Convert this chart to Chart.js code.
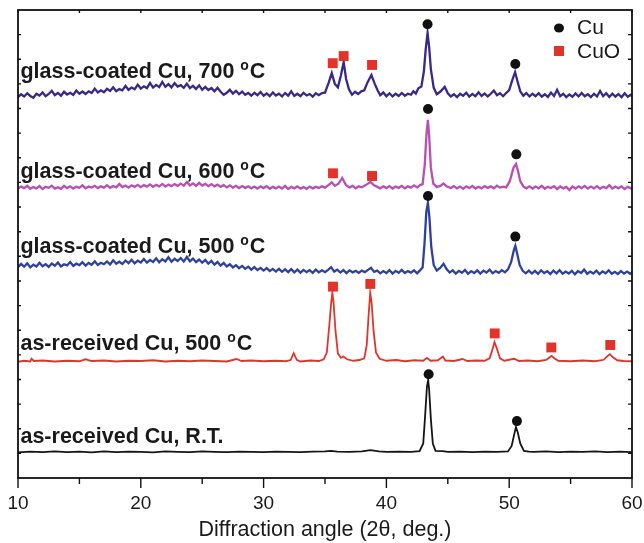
<!DOCTYPE html>
<html>
<head>
<meta charset="utf-8">
<script src="https://cdn.jsdelivr.net/npm/chart.js@4.4.1/dist/chart.umd.min.js"></script>
<style>
  body { margin: 0; background: #fff; }
  #wrap { width: 644px; height: 543px; position: relative; }
</style>
</head>
<body>
<div id="wrap"><canvas id="xrd"></canvas></div>
<script>
// axis ticks
const xTicks = [10, 20, 30, 40, 50, 60]

// patterns, [2theta, intensity in a.u. with stacking offset]
const rtCu = [
  [10,10.4],[11,10.7],[12,10.5],[13,10.8],[14,10.5],[15,10.7],[16,10.4],[17,10.8],[18,10.5],[19,10.7],
  [20,10.6],[21,10.4],[22,10.8],[23,10.6],[24,10.5],[25,10.8],[26,10.6],[27,10.5],[28,10.7],[29,10.6],
  [30,10.5],[31,10.7],[32,10.6],[33,10.5],[34,10.7],[35,10.8],[35.5,11.0],[36,10.7],[37,10.6],[38,10.8],
  [38.7,11.3],[39.4,10.8],[40,10.6],[41,10.7],[42,10.6],[42.7,10.9],[43.0,14],[43.15,25],[43.3,37],[43.4,39.8],
  [43.48,36],[43.62,24],[43.78,14],[44.0,11.0],[44.6,10.9],[45,10.6],[46,10.7],[47,10.5],[48,10.7],[49,10.6],
  [49.9,10.8],[50.2,13],[50.4,17.5],[50.55,20.7],[50.7,18.5],[50.9,14],[51.2,11],[51.6,10.7],[52,10.6],[53,10.8],
  [54,10.5],[55,10.7],[56,10.6],[57,10.8],[58,10.5],[59,10.7],[60,10.5]
]
const red500 = [
  [10,47.2],[10.5,47.6],[11,47.3],[11.1,48.4],[11.3,47.5],[12,47.7],[13,47.3],[14,47.6],[15,47.4],[15.5,48.2],
  [16,47.5],[17,47.7],[18,47.3],[19,47.6],[20,47.5],[21,47.8],[22,47.3],[23,47.6],[24,47.4],[25,47.7],
  [26,47.5],[27,47.3],[27.8,48.3],[28.2,47.5],[29,47.7],[30,47.4],[31,47.6],[31.8,47.4],[32.2,47.9],[32.45,50.7],
  [32.7,48.0],[33,47.3],[33.8,47.7],[34.5,47.5],[34.9,48.2],[35.15,51],[35.35,62],[35.5,71],[35.6,75.2],[35.7,71],
  [35.85,60],[36.05,50.5],[36.3,48.8],[36.5,49.3],[36.8,48.2],[37.3,47.6],[37.8,47.9],[38.2,48.6],[38.4,54],[38.55,66],
  [38.68,75.2],[38.8,71],[38.95,60],[39.15,51],[39.45,48.4],[40,47.6],[40.8,47.9],[41.5,47.4],[42.3,47.8],[43.0,47.6],
  [43.3,48.8],[43.6,47.6],[44.2,47.8],[44.6,49.3],[44.8,47.7],[45.5,47.5],[46.2,48.3],[46.6,47.5],[47.3,47.7],[48.0,47.6],
  [48.4,48.6],[48.6,51.5],[48.8,55.2],[49.0,52.5],[49.25,48.6],[49.6,47.6],[50.4,48.4],[50.8,47.5],[51.5,47.7],[52.3,47.4],
  [53.0,47.9],[53.25,48.8],[53.45,49.6],[53.7,48.5],[54.0,47.6],[55,47.4],[56,47.7],[57,47.4],[57.7,48.0],[58.0,49.5],
  [58.2,50.3],[58.45,49.0],[58.8,47.8],[59.3,47.5],[60,47.4]
]
const glass500 = [
  [10,85.6],[10.25,86.9],[10.5,85.8],[10.75,87.2],[11,85.5],[11.25,86.6],[11.5,85.9],[11.75,87.4],[12,86.0],[12.25,86.8],
  [12.5,85.7],[12.75,87.1],[13,86.2],[13.25,87.5],[13.5,85.9],[13.75,86.8],[14,86.3],[14.25,87.7],[14.5,86.1],[14.75,87.0],
  [15,86.4],[15.25,87.6],[15.5,86.2],[15.75,87.3],[16,86.6],[16.25,88.0],[16.5,86.5],[16.75,87.4],[17,86.8],[17.25,87.9],
  [17.5,86.7],[17.75,88.4],[18,87.0],[18.25,87.8],[18.5,86.9],[18.75,88.3],[19,87.2],[19.25,88.6],[19.5,87.1],[19.75,88.2],
  [20,87.5],[20.25,88.9],[20.5,87.4],[20.75,88.5],[21,87.7],[21.25,89.2],[21.5,87.6],[21.75,88.8],[22,87.9],[22.25,89.6],
  [22.5,87.8],[22.75,89.0],[23,88.1],[23.25,89.3],[23.5,87.9],[23.75,89.7],[24,88.0],[24.25,89.1],[24.5,87.6],[24.75,88.7],
  [25,87.4],[25.25,88.5],[25.5,87.0],[25.75,88.1],[26,86.6],[26.25,87.7],[26.5,86.2],[26.75,87.3],[27,85.9],[27.25,86.8],
  [27.5,85.5],[27.75,86.4],[28,85.2],[28.25,86.1],[28.5,84.9],[28.75,85.8],[29,84.6],[29.25,85.6],[29.5,84.4],[29.75,85.3],
  [30,84.2],[30.25,85.2],[30.5,84.0],[30.75,84.9],[31,83.8],[31.25,84.9],[31.5,83.7],[31.75,84.7],[32,83.6],[32.25,84.8],
  [32.5,83.5],[32.75,84.6],[33,83.4],[33.25,84.5],[33.5,83.6],[33.75,84.4],[34,83.3],[34.25,84.6],[34.5,83.5],[34.75,84.3],
  [35,83.6],[35.25,84.5],[35.5,85.6],[35.75,83.8],[36,84.6],[36.25,83.4],[36.5,84.4],[36.75,83.2],[37,84.3],[37.25,83.5],
  [37.5,84.1],[37.75,83.3],[38,84.2],[38.25,83.6],[38.5,84.5],[38.75,85.3],[39,83.7],[39.25,84.2],[39.5,83.1],[39.75,84.0],
  [40,83.2],[40.25,84.4],[40.5,83.0],[40.75,84.1],[41,83.3],[41.25,84.5],[41.5,83.2],[41.75,84.0],[42,83.4],[42.25,84.3],
  [42.5,83.1],[42.75,84.4],[42.95,85.5],[43.1,95],[43.25,108],[43.38,111.7],[43.5,106],[43.65,94],[43.85,86.5],[44.1,84.2],
  [44.4,85.4],[44.65,87.0],[44.9,84.8],[45.15,83.4],[45.4,84.3],[45.65,83.0],[45.9,84.1],[46.15,83.3],[46.4,84.5],[46.65,82.9],
  [46.9,84.0],[47.15,83.2],[47.4,84.3],[47.65,83.0],[47.9,84.2],[48.15,83.4],[48.4,84.6],[48.65,83.1],[48.9,84.0],[49.15,83.3],
  [49.4,84.4],[49.65,83.5],[49.9,84.7],[50.15,87.5],[50.38,92.5],[50.5,94.2],[50.65,91],[50.85,86.5],[51.1,84.1],[51.35,83.1],
  [51.6,84.2],[51.85,83.0],[52.1,84.1],[52.35,82.9],[52.6,84.3],[52.85,83.2],[53.1,84.0],[53.35,82.8],[53.6,84.2],[53.85,83.1],
  [54.1,84.4],[54.35,82.9],[54.6,83.8],[54.85,83.0],[55.1,84.1],[55.35,82.7],[55.6,84.0],[55.85,83.2],[56.1,84.6],[56.35,82.9],
  [56.6,83.8],[56.85,83.0],[57.1,84.2],[57.35,82.8],[57.6,83.9],[57.85,83.1],[58.1,84.3],[58.35,82.9],[58.6,83.7],[58.85,82.8],
  [59.1,84.0],[59.35,83.0],[59.6,83.8],[59.85,82.9],[60,83.5]
]
const glass600 = [
  [10,117.5],[10.25,118.3],[10.5,117.7],[10.75,118.6],[11,117.4],[11.25,118.1],[11.5,117.6],[11.75,118.5],[12,117.3],[12.25,118.2],
  [12.5,117.8],[12.75,118.7],[13,117.5],[13.25,118.0],[13.5,117.4],[13.75,118.6],[14,117.7],[14.25,118.4],[14.5,117.5],[14.75,118.2],
  [15,117.8],[15.25,118.8],[15.5,117.6],[15.75,118.3],[16,117.9],[16.25,118.6],[16.5,117.7],[16.75,118.4],[17,117.9],[17.25,118.9],
  [17.5,117.8],[17.75,118.5],[18,118.0],[18.25,119.4],[18.5,118.1],[18.75,118.7],[19,117.9],[19.25,118.8],[19.5,118.2],[19.75,119.0],
  [20,118.1],[20.25,118.9],[20.5,118.3],[20.75,119.2],[21,118.2],[21.25,119.0],[21.5,118.4],[21.75,119.4],[22,118.3],[22.25,119.1],
  [22.5,118.5],[22.75,119.3],[23,118.6],[23.25,119.5],[23.5,118.7],[23.75,120.2],[24,118.8],[24.25,119.6],[24.5,118.6],[24.75,119.8],
  [25,118.7],[25.25,119.4],[25.5,118.5],[25.75,119.3],[26,118.4],[26.25,119.1],[26.5,118.2],[26.75,118.9],[27,118.0],[27.25,118.8],
  [27.5,117.9],[27.75,118.6],[28,117.7],[28.25,118.5],[28.5,117.8],[28.75,118.4],[29,117.6],[29.25,118.3],[29.5,117.5],[29.75,118.4],
  [30,117.7],[30.25,118.5],[30.5,117.4],[30.75,118.2],[31,117.6],[31.25,118.3],[31.5,117.5],[31.75,118.6],[32,117.3],[32.25,118.2],
  [32.5,117.6],[32.75,118.4],[33,117.5],[33.25,118.1],[33.5,117.4],[33.75,118.3],[34,117.6],[34.25,118.2],[34.5,117.7],[34.75,118.4],
  [35,117.9],[35.3,119.0],[35.55,120.0],[35.8,118.6],[36.1,119.5],[36.4,121.8],[36.7,119.0],[37,118.0],[37.25,118.6],[37.5,117.6],
  [37.75,118.4],[38,118.0],[38.4,119.2],[38.7,120.2],[39,118.8],[39.25,118.2],[39.5,117.6],[39.75,118.4],[40,117.7],[40.25,118.5],
  [40.5,117.5],[40.75,118.3],[41,117.8],[41.25,118.6],[41.5,117.6],[41.75,118.4],[42,117.9],[42.25,118.8],[42.5,118.0],[42.75,118.9],
  [42.95,119.3],[43.12,127],[43.27,140],[43.38,145.4],[43.48,139],[43.62,126],[43.82,119.5],[44.1,118.2],[44.4,118.6],[44.65,119.6],
  [44.9,118.4],[45.25,117.7],[45.5,118.5],[45.75,117.6],[46,118.3],[46.25,117.4],[46.5,118.4],[46.75,117.7],[47,118.6],[47.25,117.5],
  [47.5,118.2],[47.75,117.6],[48,118.5],[48.25,117.8],[48.5,118.4],[48.75,117.6],[49,118.7],[49.25,117.9],[49.5,118.3],[49.75,118.0],
  [50.05,120.5],[50.35,126],[50.55,127.5],[50.7,125],[50.9,120.5],[51.15,118.4],[51.4,117.6],[51.65,118.4],[51.9,117.5],[52.15,118.3],
  [52.4,117.6],[52.65,118.6],[52.9,117.4],[53.15,118.2],[53.4,117.7],[53.65,118.5],[53.9,117.3],[54.15,118.4],[54.4,117.6],[54.65,118.2],
  [54.9,116.9],[55.15,118.3],[55.4,117.5],[55.65,118.4],[55.9,117.7],[56.15,118.6],[56.4,117.5],[56.65,118.3],[56.9,117.6],[57.15,118.5],
  [57.4,117.4],[57.65,118.2],[57.9,117.7],[58.15,118.9],[58.4,117.5],[58.65,118.3],[58.9,117.6],[59.15,118.4],[59.4,117.3],[59.65,118.2],
  [59.9,117.6],[60,118.0]
]
const glass700 = [
  [10,154.6],[10.25,155.8],[10.5,154.9],[10.75,156.2],[11,155.1],[11.25,154.4],[11.5,156.0],[11.75,155.3],[12,156.5],[12.25,155.0],
  [12.5,155.9],[12.75,157.2],[13,155.4],[13.25,156.3],[13.5,155.2],[13.75,156.8],[14,155.7],[14.25,156.4],[14.5,155.5],[14.75,157.3],
  [15,156.0],[15.25,156.9],[15.5,155.9],[15.75,157.0],[16,156.3],[16.25,158.1],[16.5,156.5],[16.75,157.4],[17,156.6],[17.25,158.0],
  [17.5,157.1],[17.75,158.6],[18,157.0],[18.25,157.9],[18.5,157.4],[18.75,159.2],[19,157.6],[19.25,158.5],[19.5,157.8],[19.75,159.7],
  [20,158.1],[20.25,159.0],[20.5,158.3],[20.75,160.4],[21,158.5],[21.25,159.6],[21.5,158.7],[21.75,160.8],[22,158.8],[22.25,159.9],
  [22.5,158.6],[22.75,160.3],[23,158.9],[23.25,159.5],[23.5,158.4],[23.75,160.1],[24,158.3],[24.25,159.2],[24.5,157.9],[24.75,159.4],
  [25,157.6],[25.25,158.8],[25.5,157.5],[25.75,158.3],[26,157.0],[26.25,158.4],[26.5,156.8],[26.75,155.6],[27,156.4],[27.25,157.6],
  [27.5,156.1],[27.75,157.2],[28,155.8],[28.25,156.9],[28.5,155.6],[28.75,156.3],[29,155.2],[29.25,156.4],[29.5,155.4],[29.75,156.7],
  [30,155.2],[30.25,156.1],[30.5,155.0],[30.75,156.5],[31,155.3],[31.25,156.0],[31.5,154.9],[31.75,156.3],[32,155.2],[32.25,157.0],
  [32.5,155.1],[32.75,156.0],[33,155.0],[33.25,156.4],[33.5,155.3],[33.75,155.9],[34,154.8],[34.25,156.2],[34.5,155.4],[34.75,156.3],
  [35,156.4],[35.3,160.5],[35.55,164.4],[35.8,160],[36.05,158.6],[36.3,163.5],[36.52,168.9],[36.72,162],[36.95,157.8],[37.2,155.6],
  [37.45,156.8],[37.7,155.9],[37.95,157.0],[38.2,157.4],[38.45,160.5],[38.78,163.6],[39.05,160],[39.3,157.2],[39.5,155.4],[39.75,156.5],
  [40,155.0],[40.25,156.2],[40.5,154.9],[40.75,156.0],[41,155.1],[41.25,156.3],[41.5,155.2],[41.75,156.0],[42,155.6],[42.2,157.0],
  [42.4,156.1],[42.6,158.2],[42.85,158.9],[43.05,165],[43.2,174],[43.35,180.7],[43.48,175],[43.62,166],[43.85,158.5],[44.1,155.8],
  [44.4,156.9],[44.75,158.8],[45,156.2],[45.25,154.9],[45.5,155.8],[45.75,154.6],[46,156.0],[46.25,155.2],[46.5,156.4],[46.75,154.8],
  [47,155.9],[47.25,155.0],[47.5,156.6],[47.75,155.1],[48,156.1],[48.25,154.9],[48.5,156.0],[48.75,157.3],[49,155.4],[49.25,156.2],
  [49.5,155.0],[49.75,156.3],[50,157.5],[50.25,161.5],[50.48,164.8],[50.68,161],[50.9,157.0],[51.15,155.2],[51.4,156.3],[51.65,154.9],
  [51.9,156.0],[52.15,155.0],[52.4,156.2],[52.65,154.8],[52.9,155.8],[53.15,154.7],[53.4,156.5],[53.65,155.1],[53.9,157.6],[54.15,155.0],
  [54.4,156.0],[54.65,154.6],[54.9,155.7],[55.15,154.8],[55.4,156.1],[55.65,154.9],[55.9,156.3],[56.15,155.0],[56.4,155.8],[56.65,154.6],
  [56.9,156.0],[57.15,154.9],[57.4,157.1],[57.65,155.0],[57.9,156.2],[58.15,154.7],[58.4,156.0],[58.65,154.8],[58.9,155.9],[59.15,154.6],
  [59.4,156.2],[59.65,154.8],[59.9,155.6],[60,155.0]
]

// phase markers above the peaks
const cuMarks = [
  [43.35,184.2],[50.5,168.1],[43.39,149.8],[50.58,131.4],
  [43.39,114.5],[50.5,98.0],[43.44,42.1],[50.63,23.1]
]
const cuoMarks = [
  [35.63,168.4],[36.52,171.3],[38.83,167.7],
  [35.65,123.7],[38.83,122.6],
  [35.65,77.7],[38.69,78.8],[48.82,58.7],[53.43,53.0],[58.23,54.0]
]

// sample names, with where their text sits (2theta, intensity)
const sampleNames = ["glass-coated Cu, 700 ", "glass-coated Cu, 600 ", "glass-coated Cu, 500 ", "as-received Cu, 500 ", "as-received Cu, R.T."]
const nameAnchors = [[10.2,162.4],[10.2,121.8],[10.2,91.4],[10.2,52.0],[10.2,14.2]]
const nameDegree = [true, true, true, true, false]

const FONT = "'Liberation Sans', Arial, Helvetica, sans-serif"
const RED = "#e2322a"

function toPts(arr){
    return arr.map(p => ({x: p[0], y: p[1]}))
}

function lineSet(arr, color, width){
    return {type: "line", data: toPts(arr), borderColor: color, borderWidth: width,
        pointRadius: 0, tension: 0, fill: false, order: 2}
}

// frame, ticks, sample names and the legend
const decorPlugin = {
    id: "decor",
    afterDatasetsDraw(chart){
        const ctx = chart.ctx
        const a = chart.chartArea
        const sx = chart.scales.x
        const sy = chart.scales.y
        ctx.save()
        ctx.strokeStyle = "#111"
        ctx.lineWidth = 1.8
        ctx.strokeRect(a.left, a.top, a.right - a.left, a.bottom - a.top)

        ctx.lineWidth = 1.4
        ctx.beginPath()
        for (let v = 10; v <= 60; v += 5){
            let px = sx.getPixelForValue(v)
            let len = (v % 10 === 0) ? 10 : 6
            ctx.moveTo(px, a.bottom); ctx.lineTo(px, a.bottom + len)
            ctx.moveTo(px, a.top); ctx.lineTo(px, a.top + 3)
        }
        for (let v = 10; v < 190; v += 10){
            let py = sy.getPixelForValue(v)
            ctx.moveTo(a.left, py); ctx.lineTo(a.left + 3, py)
            ctx.moveTo(a.right, py); ctx.lineTo(a.right - 4, py)
        }
        ctx.stroke()

        // sample names
        ctx.fillStyle = "#1a1a1a"
        ctx.textBaseline = "alphabetic"
        sampleNames.forEach((name, i) => {
            let px = sx.getPixelForValue(nameAnchors[i][0])
            let py = sy.getPixelForValue(nameAnchors[i][1])
            ctx.font = "bold 21.5px " + FONT
            ctx.fillText(name, px, py)
            if (nameDegree[i]){
                let w = ctx.measureText(name).width
                ctx.font = "bold 14px " + FONT
                ctx.fillText("o", px + w, py - 8)
                let w2 = ctx.measureText("o").width
                ctx.font = "bold 21.5px " + FONT
                ctx.fillText("C", px + w + w2 + 1, py)
            }
        })

        // legend
        ctx.fillStyle = "#111"
        ctx.beginPath()
        ctx.ellipse(559, 28, 5, 4.6, 0, 0, Math.PI * 2)
        ctx.fill()
        ctx.fillStyle = RED
        ctx.fillRect(554, 46, 10, 10)
        ctx.fillStyle = "#1a1a1a"
        ctx.font = "21px " + FONT
        ctx.textBaseline = "middle"
        ctx.fillText("Cu", 577, 28)
        ctx.fillText("CuO", 577, 52)
        ctx.restore()
    }
}

new Chart(document.getElementById("xrd"), {
    data: {
        datasets: [
            {type: "scatter", data: toPts(cuMarks), pointStyle: "circle", pointRadius: 5,
                backgroundColor: "#111", borderColor: "#111", borderWidth: 0, order: 0},
            {type: "scatter", data: toPts(cuoMarks), pointStyle: "rect", pointRadius: 7,
                backgroundColor: RED, borderColor: RED, borderWidth: 0, order: 0},
            lineSet(glass700, "#37298a", 2.3),
            lineSet(glass600, "#b94fb4", 2.3),
            lineSet(glass500, "#2f419f", 2.3),
            lineSet(red500, "#e3342b", 1.8),
            lineSet(rtCu, "#151515", 1.8),
        ]
    },
    options: {
        responsive: true,
        maintainAspectRatio: false,
        animation: false,
        events: [],
        layout: {padding: {left: 0, right: 12, top: 10, bottom: 0}},
        plugins: {legend: {display: false}, tooltip: {enabled: false}},
        scales: {
            x: {
                type: "linear", min: 10, max: 60,
                grid: {display: false, drawTicks: false},
                border: {display: false},
                afterBuildTicks: s => { s.ticks = xTicks.map(v => ({value: v})) },
                afterFit: s => { s.height = 65; s.paddingLeft = 0; s.paddingRight = 0 },
                ticks: {padding: 14, color: "#1a1a1a", font: {family: FONT, size: 19}, maxRotation: 0},
                title: {display: true, text: "Diffraction angle (2\u03b8, deg.)", color: "#1a1a1a",
                    font: {family: FONT, size: 21.5}, padding: {top: 0, bottom: 0}}
            },
            y: {
                type: "linear", min: 0, max: 190,
                grid: {display: false, drawTicks: false},
                border: {display: false},
                ticks: {display: false},
                afterFit: s => { s.width = 18 }
            }
        }
    },
    plugins: [decorPlugin]
})
</script>
</body>
</html>
